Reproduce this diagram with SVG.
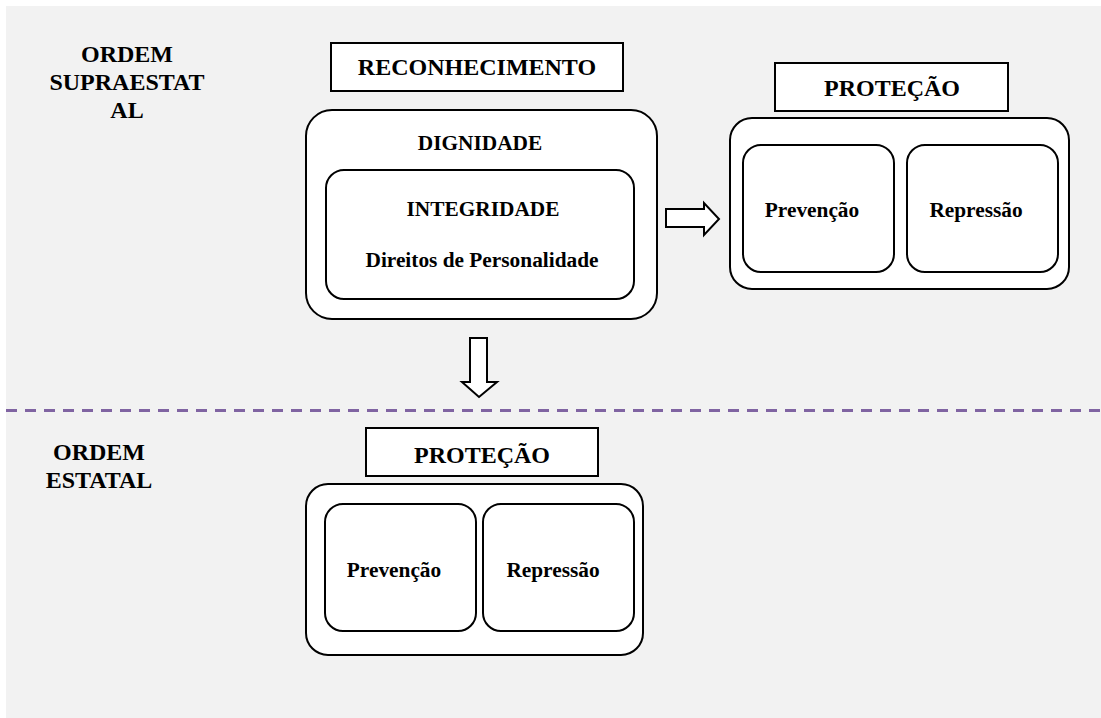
<svg xmlns="http://www.w3.org/2000/svg" width="1101" height="718" viewBox="0 0 1101 718">
<style>
.t{font-family:"Liberation Serif","Times New Roman",serif;font-weight:bold;fill:#000;text-anchor:middle}
.h{font-size:24px}
.b{font-size:21.33px}
.hdr{fill:#fff;stroke:#000;stroke-width:2}
.box{fill:#fff;stroke:#000;stroke-width:2}
.arr{fill:#fff;stroke:#000;stroke-width:2;stroke-linejoin:miter}
</style>
<rect x="0" y="0" width="1101" height="718" fill="#fff"/>
<rect x="6" y="6" width="1095" height="712" fill="#f2f2f2"/>
<line x1="6" y1="410.5" x2="1101" y2="410.5" stroke="#8064a2" stroke-width="3" stroke-dasharray="11 8"/>
<g id="label-supra">
<text class="t h" x="127" y="62">ORDEM</text>
<text class="t h" x="127" y="90">SUPRAESTAT</text>
<text class="t h" x="127" y="118">AL</text>
</g>
<g id="label-estatal">
<text class="t h" x="99" y="460">ORDEM</text>
<text class="t h" x="99" y="488">ESTATAL</text>
</g>
<g id="reconhecimento">
<rect class="hdr" x="331" y="43" width="292" height="48"/>
<text class="t h" x="477" y="75">RECONHECIMENTO</text>
</g>
<g id="dignidade">
<rect class="box" x="306" y="110" width="351" height="209" rx="26"/>
<text class="t b" x="480" y="150">DIGNIDADE</text>
</g>
<g id="integridade">
<rect class="box" x="326" y="170" width="308" height="129" rx="18"/>
<text class="t b" x="483" y="216">INTEGRIDADE</text>
<text class="t b" x="482" y="267">Direitos de Personalidade</text>
</g>
<g id="protecao-supra">
<rect class="hdr" x="775" y="63" width="233" height="48"/>
<text class="t h" x="892" y="96">PROTEÇÃO</text>
</g>
<g id="protecao-supra-box">
<rect class="box" x="730" y="118" width="339" height="171" rx="22"/>
</g>
<g id="prevencao-supra">
<rect class="box" x="743" y="145" width="151" height="127" rx="18"/>
<text class="t b" x="812" y="217">Prevenção</text>
</g>
<g id="repressao-supra">
<rect class="box" x="907" y="145" width="151" height="127" rx="18"/>
<text class="t b" x="976" y="217">Repressão</text>
</g>
<g id="protecao-estatal">
<rect class="hdr" x="366" y="428" width="232" height="48"/>
<text class="t h" x="482" y="463">PROTEÇÃO</text>
</g>
<g id="protecao-estatal-box">
<rect class="box" x="306" y="484" width="337" height="171" rx="22"/>
</g>
<g id="prevencao-estatal">
<rect class="box" x="325" y="504" width="151" height="127" rx="18"/>
<text class="t b" x="394" y="577">Prevenção</text>
</g>
<g id="repressao-estatal">
<rect class="box" x="483" y="504" width="151" height="127" rx="18"/>
<text class="t b" x="553" y="577">Repressão</text>
</g>
<g id="connectors">
<polygon class="arr" points="666,209 704,209 704,203 719,219 704,235 704,227 666,227"/>
<polygon class="arr" points="470,338 487,338 487,382 497,382 479,397 462,382 470,382"/>
</g>
</svg>
